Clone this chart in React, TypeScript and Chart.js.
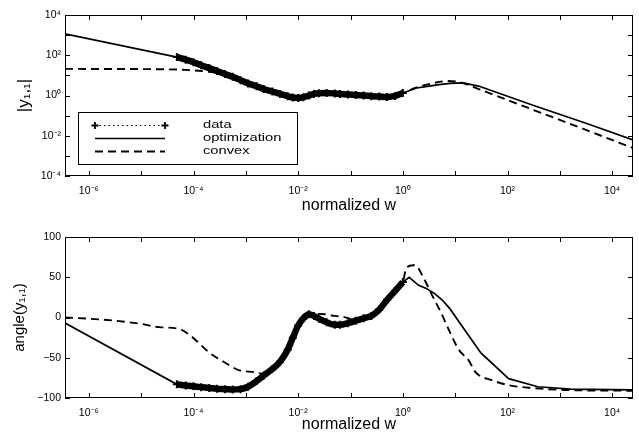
import React, { useEffect, useRef } from 'react';
import { Chart, registerables } from 'chart.js';

Chart.register(...registerables);

const FONT = '"Liberation Sans", Arial, Helvetica, sans-serif';

// ---------- axes ----------
const xMin = 3.5e-7;
const xMax = 2.5e4;
const xTickValues = [1e-6, 1e-5, 1e-4, 1e-3, 1e-2, 1e-1, 1, 10, 100, 1000, 10000];
const xTickLabels = ['10⁻⁶', '', '10⁻⁴', '', '10⁻²', '', '10⁰', '', '10²', '', '10⁴'];
const magTickValues = [1e-4, 1e-3, 1e-2, 1e-1, 1, 10, 100, 1000, 10000];
const magTickLabels = ['10⁻⁴', '', '10⁻²', '', '10⁰', '', '10²', '', '10⁴'];
const angTickValues = [-100, -50, 0, 50, 100];
const angTickLabels = ['\u2212100', '\u221250', '0', '50', '100'];
const seriesLabels = ['data', 'optimization', 'convex'];

// ---------- measured data (band of + markers) ----------
const dataW = [4.8e-5, 7.1e-5, 1e-4, 1.4e-4, 2e-4, 2.8e-4, 4e-4, 5.6e-4, 7.9e-4, 1.1e-3, 1.6e-3, 2.2e-3, 3.2e-3, 4.5e-3, 6.3e-3, 7.9e-3, 1e-2, 1.26e-2, 1.6e-2, 2e-2, 2.5e-2, 3.5e-2, 5e-2, 6.3e-2, 8.9e-2, 0.126, 0.178, 0.25, 0.355, 0.5, 0.71, 1.0];
const dataMag = [81, 60, 45, 32, 23, 16.6, 11.7, 8.5, 5.8, 4.0, 2.9, 2.1, 1.58, 1.2, 0.93, 0.79, 0.76, 0.83, 1.0, 1.2, 1.29, 1.32, 1.26, 1.2, 1.12, 1.05, 1.0, 0.93, 0.89, 0.85, 0.95, 1.32];
const dataAng = [-83, -84.5, -85.5, -86.5, -87.5, -88.5, -89, -89.5, -89, -86, -79, -72, -64, -55, -40, -25, -10, -1, 4, 2, -1.5, -6, -9, -9, -7, -4, -1, 2, 10, 22, 33, 44];

// ---------- optimization fit ----------
const optMagW = [3.5e-7, 4.8e-5, 1e-4, 2e-4, 4e-4, 7.9e-4, 1.6e-3, 3.2e-3, 6.3e-3, 1e-2, 1.6e-2, 2.5e-2, 5e-2, 8.9e-2, 0.178, 0.355, 0.5, 0.71, 1.0, 1.82, 3.2, 4.9, 7.9, 14, 28, 316, 3160, 25000];
const optMag = [1150, 81, 45, 23, 11.7, 5.8, 2.9, 1.58, 0.93, 0.76, 1.0, 1.29, 1.26, 1.12, 1.0, 0.89, 0.85, 0.95, 1.32, 2.35, 2.95, 3.47, 4.0, 4.2, 2.95, 0.32, 0.042, 0.0062];
const optAngW = [3.5e-7, 4.8e-5, 1e-4, 2e-4, 4e-4, 7.9e-4, 1.1e-3, 1.6e-3, 2.2e-3, 3.2e-3, 4.5e-3, 6.3e-3, 7.9e-3, 1e-2, 1.26e-2, 1.6e-2, 2e-2, 2.5e-2, 3.5e-2, 5e-2, 6.3e-2, 8.9e-2, 0.126, 0.178, 0.25, 0.355, 0.5, 0.71, 1.0, 1.32, 2.0, 2.8, 4.0, 5.6, 7.9, 14, 31, 105, 380, 1600, 25000];
const optAng = [-6.8, -83, -84.5, -86, -87.5, -87, -84, -78, -71, -63, -54, -39, -24, -9, 0, 4.5, 2.5, -1, -6, -9, -9, -7, -4, -1, 2, 10, 22, 33, 44, 50, 40, 36, 30, 22, 11, -12, -44, -76, -86, -89, -90];

// ---------- convex fit ----------
const cvxMagW = [3.5e-7, 3.2e-5, 1e-4, 2e-4, 2.8e-4, 4e-4, 5.6e-4, 7.9e-4, 1.6e-3, 3.2e-3, 6.3e-3, 1e-2, 1.6e-2, 2.5e-2, 5e-2, 8.9e-2, 0.178, 0.355, 0.5, 0.71, 1.0, 1.82, 3.2, 7.2, 14, 28, 316, 3160, 25000];
const cvxMag = [21, 20, 17.8, 15, 13.5, 11, 8.5, 5.8, 2.9, 1.58, 0.93, 0.76, 1.0, 1.29, 1.26, 1.12, 1.0, 0.89, 0.85, 0.95, 1.32, 2.5, 3.7, 5.25, 4.2, 2.1, 0.19, 0.0195, 0.00245];
const cvxAngW = [3.5e-7, 1e-6, 3.2e-6, 1e-5, 2.2e-5, 5.2e-5, 9.3e-5, 1.95e-4, 4.1e-4, 7.1e-4, 1.5e-3, 2.2e-3, 3.2e-3, 4.5e-3, 6.3e-3, 7.9e-3, 1e-2, 1.26e-2, 1.6e-2, 2e-2, 2.5e-2, 3.2e-2, 5e-2, 7.6e-2, 0.126, 0.178, 0.25, 0.355, 0.5, 0.71, 1.0, 1.17, 1.58, 1.82, 2.45, 3.8, 5.4, 7.6, 11.7, 18, 24.5, 51, 105, 295, 1230, 25000];
const cvxAng = [0, -1.5, -4, -8, -12, -14, -24, -43, -56.5, -65, -68, -70, -64, -55, -40, -25, -10, -1, 4, 4.5, 4.5, 4, 2, 0.5, -3, -1, 2, 10, 22, 33, 44, 61.5, 65, 64, 50, 25, 5.6, -15.5, -40, -53, -68, -78, -84, -87.6, -90, -91];

const zip = (xs: number[], ys: number[]) => xs.map((x, i) => ({ x, y: ys[i] }));

function makeDatasets(dW: number[], dY: number[], oW: number[], oY: number[], cW: number[], cY: number[]) {
  return [
    {
      label: seriesLabels[0],
      data: zip(dW, dY),
      borderColor: '#000',
      backgroundColor: '#000',
      borderWidth: 6.5,
      pointStyle: 'cross',
      pointRadius: 4,
      pointBorderWidth: 2,
      pointBorderColor: '#000',
      cubicInterpolationMode: 'monotone',
    },
    {
      label: seriesLabels[1],
      data: zip(oW, oY),
      borderColor: '#000',
      borderWidth: 1.7,
      pointRadius: 0,
      tension: 0,
    },
    {
      label: seriesLabels[2],
      data: zip(cW, cY),
      borderColor: '#000',
      borderWidth: 1.9,
      borderDash: [8, 5],
      pointRadius: 0,
      cubicInterpolationMode: 'monotone',
    },
  ];
}

const framePlugin = (xt: number[], yt: number[]) => ({
  id: 'frame',
  afterDraw(chart: any) {
    const { ctx, chartArea: ca, scales } = chart;
    const L = 5;
    ctx.save();
    ctx.strokeStyle = '#000';
    ctx.lineWidth = 1;
    ctx.setLineDash([]);
    ctx.strokeRect(ca.left + 0.5, ca.top + 0.5, ca.right - ca.left - 1, ca.bottom - ca.top - 1);
    ctx.beginPath();
    for (const v of xt) {
      const px = Math.round(scales.x.getPixelForValue(v)) + 0.5;
      ctx.moveTo(px, ca.bottom);
      ctx.lineTo(px, ca.bottom - L);
      ctx.moveTo(px, ca.top);
      ctx.lineTo(px, ca.top + L);
    }
    for (const v of yt) {
      const py = Math.round(scales.y.getPixelForValue(v)) + 0.5;
      ctx.moveTo(ca.left, py);
      ctx.lineTo(ca.left + L, py);
      ctx.moveTo(ca.right, py);
      ctx.lineTo(ca.right - L, py);
    }
    ctx.stroke();
    ctx.restore();
  },
});

const legendPlugin = {
  id: 'boxLegend',
  afterDraw(chart: any) {
    const { ctx, chartArea: ca } = chart;
    const bx = ca.left + 13;
    const by = ca.top + 97;
    const bw = 219;
    const bh = 52;
    ctx.save();
    ctx.fillStyle = '#fff';
    ctx.fillRect(bx, by, bw, bh);
    ctx.strokeStyle = '#000';
    ctx.lineWidth = 1;
    ctx.strokeRect(bx + 0.5, by + 0.5, bw, bh);
    const rows = [12.5, 25.5, 39];
    const x0 = bx + 17;
    const x1 = bx + 87;
    chart.data.datasets.forEach((ds: any, i: number) => {
      const y = Math.round(by + rows[i]) + 0.5;
      ctx.beginPath();
      if (i === 0) {
        ctx.lineWidth = 1;
        ctx.setLineDash([1.5, 3]);
      } else if (i === 1) {
        ctx.lineWidth = 1.7;
        ctx.setLineDash([]);
      } else {
        ctx.lineWidth = 1.9;
        ctx.setLineDash([8, 5]);
      }
      ctx.moveTo(x0, y);
      ctx.lineTo(x1, y);
      ctx.stroke();
      ctx.setLineDash([]);
      if (i === 0) {
        ctx.lineWidth = 1.8;
        ctx.beginPath();
        for (const cx of [x0, x1]) {
          ctx.moveTo(cx - 3.5, y);
          ctx.lineTo(cx + 3.5, y);
          ctx.moveTo(cx, y - 3.5);
          ctx.lineTo(cx, y + 3.5);
        }
        ctx.stroke();
      }
      ctx.save();
      ctx.translate(bx + 125, y);
      ctx.scale(1.4, 1);
      ctx.font = `10.5px ${FONT}`;
      ctx.textBaseline = 'middle';
      ctx.fillStyle = '#000';
      ctx.fillText(ds.label, 0, 0);
      ctx.restore();
    });
    ctx.restore();
  },
};

function buildOptions(kind: 'mag' | 'ang') {
  const isMag = kind === 'mag';
  return {
    responsive: false,
    animation: false as const,
    events: [],
    layout: { padding: { top: isMag ? 15 : 19, right: 0, left: 0, bottom: 0 } },
    plugins: { legend: { display: false }, tooltip: { enabled: false } },
    scales: {
      x: {
        type: 'logarithmic',
        min: xMin,
        max: xMax,
        afterBuildTicks: (s: any) => {
          s.ticks = xTickValues.map((v) => ({ value: v }));
        },
        afterFit: (s: any) => {
          s.height = isMag ? 42 : 38;
        },
        grid: { display: false, drawTicks: false },
        border: { display: false },
        ticks: {
          autoSkip: false,
          maxRotation: 0,
          padding: 9,
          color: '#000',
          font: { family: FONT, size: 10.5 },
          callback: (_v: any, i: number) => xTickLabels[i],
        },
        title: {
          display: true,
          text: 'normalized w',
          color: '#000',
          font: { family: FONT, size: 16 },
          padding: { top: 0, bottom: isMag ? 3 : 2 },
        },
      },
      y: isMag
        ? {
            type: 'logarithmic',
            min: 1e-4,
            max: 1e4,
            afterBuildTicks: (s: any) => {
              s.ticks = magTickValues.map((v) => ({ value: v }));
            },
            afterFit: (s: any) => {
              s.width = 65;
            },
            grid: { display: false, drawTicks: false },
            border: { display: false },
            ticks: {
              autoSkip: false,
              padding: 4,
              color: '#000',
              font: { family: FONT, size: 10.5 },
              callback: (_v: any, i: number) => magTickLabels[i],
            },
            title: {
              display: true,
              text: '|y₁,₁|',
              color: '#000',
              font: { family: FONT, size: 17 },
              padding: { top: 14, bottom: 0 },
            },
          }
        : {
            type: 'linear',
            min: -100,
            max: 100,
            afterBuildTicks: (s: any) => {
              s.ticks = angTickValues.map((v) => ({ value: v }));
            },
            afterFit: (s: any) => {
              s.width = 65;
            },
            grid: { display: false, drawTicks: false },
            border: { display: false },
            ticks: {
              autoSkip: false,
              padding: 4,
              color: '#000',
              font: { family: FONT, size: 10.5 },
              callback: (_v: any, i: number) => angTickLabels[i],
            },
            title: {
              display: true,
              text: 'angle(y₁,₁)',
              color: '#000',
              font: { family: FONT, size: 15 },
              padding: { top: 11, bottom: 0 },
            },
          },
    },
  };
}

export default function App() {
  const topRef = useRef<HTMLCanvasElement>(null);
  const botRef = useRef<HTMLCanvasElement>(null);

  useEffect(() => {
    const top = new Chart(topRef.current as HTMLCanvasElement, {
      type: 'line',
      data: { datasets: makeDatasets(dataW, dataMag, optMagW, optMag, cvxMagW, cvxMag) as any },
      options: buildOptions('mag') as any,
      plugins: [framePlugin(xTickValues, magTickValues), legendPlugin],
    });
    const bot = new Chart(botRef.current as HTMLCanvasElement, {
      type: 'line',
      data: { datasets: makeDatasets(dataW, dataAng, optAngW, optAng, cvxAngW, cvxAng) as any },
      options: buildOptions('ang') as any,
      plugins: [framePlugin(xTickValues, angTickValues)],
    });
    return () => {
      top.destroy();
      bot.destroy();
    };
  }, []);

  return (
    <div style={{ position: 'absolute', left: 0, top: 0, width: 639, height: 436, background: '#fff' }}>
      <canvas ref={topRef} width={639} height={218} style={{ position: 'absolute', left: 0, top: 0 }} />
      <canvas ref={botRef} width={639} height={218} style={{ position: 'absolute', left: 0, top: 218 }} />
    </div>
  );
}
